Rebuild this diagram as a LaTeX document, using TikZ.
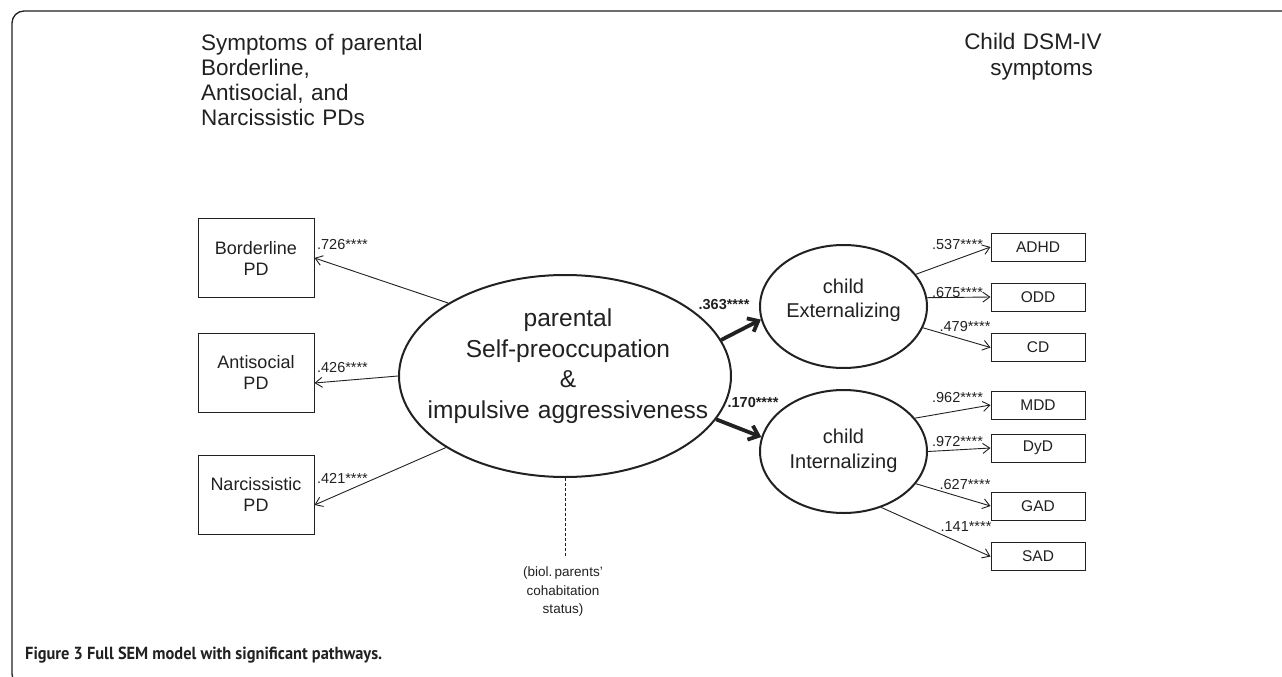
\documentclass[tikz,border=0pt]{standalone}
\usepackage{graphicx}
\usepackage{fontspec}
\setmainfont{Liberation Sans}
\newfontfamily\capfont{PT Sans}
\usetikzlibrary{arrows.meta,shapes.geometric}
\definecolor{ink}{gray}{0.13}
\begin{document}
\begin{tikzpicture}[x=1pt,y=-1pt,
  every node/.style={text=ink, inner sep=0pt},
  pbox/.style={draw=ink, line width=1pt, minimum width=116pt, minimum height=79pt,
    font=\fontsize{18}{21}\selectfont, align=center},
  cbox/.style={draw=ink, line width=1pt, minimum width=94pt, minimum height=28pt,
    font=\fontsize{15.5}{18}\selectfont},
  lat/.style={draw=ink, ellipse, line width=2pt},
  coef/.style={font=\fontsize{14.5}{16}\selectfont},
  coefb/.style={font=\fontsize{14.5}{16}\selectfont\bfseries},
  ld/.style={draw=ink, line width=0.9pt, -{Straight Barb[length=7pt,width=10pt]}},
  reg/.style={draw=ink, line width=3.8pt, -{Straight Barb[length=9pt,width=15pt]}},
]
\useasboundingbox (0,0) rectangle (1282,677);
\fill[white] (0,0) rectangle (1282,677);
% frame
\draw[ink, line width=1.3pt, rounded corners=12pt] (1290,11) -- (12,11) -- (12,686) -- (40,686);

% headers
\node[anchor=base west, text width=260pt, align=left, font=\fontsize{22.5}{25}\selectfont] (hl) at (201,51)
  {Symptoms of parental\\Borderline,\\Antisocial, and\\Narcissistic PDs};
\node[anchor=base, text width=160pt, align=center, font=\fontsize{22.5}{25}\selectfont] (hr) at (1033,50)
  {Child DSM-IV\\\hspace*{17pt}symptoms};

% left boxes
\node[pbox] (bl) at (256,258) {Borderline\\PD};
\node[pbox] (as) at (256,372.5) {Antisocial\\PD};
\node[pbox] (nb) at (256,494.5) {Narcissistic\\PD};

% latent ellipses
\node[lat, minimum width=332pt, minimum height=202pt] (ce) at (565,376) {};
\node[anchor=base, text width=340pt, align=center, font=\fontsize{24.5}{30.5}\selectfont] (cet) at (568,326.7)
  {parental\\Self-preoccupation\\\&\\impulsive aggressiveness};
\node[lat, minimum width=167pt, minimum height=123pt] (ext) at (843.5,306.5) {};
\node[anchor=base, text width=160pt, align=center, font=\fontsize{20}{24}\selectfont] (extt) at (843.5,293.3)
  {child\\Externalizing};
\node[lat, minimum width=167pt, minimum height=123pt] (int) at (843.5,451.5) {};
\node[anchor=base, text width=160pt, align=center, font=\fontsize{20}{25}\selectfont] (intt) at (843.5,443.3)
  {child\\Internalizing};

% right boxes
\node[cbox] (adhd) at (1038,247) {ADHD};
\node[cbox] (odd) at (1038,297) {ODD};
\node[cbox] (cd) at (1038,347.5) {CD};
\node[cbox] (mdd) at (1038,405) {MDD};
\node[cbox] (dyd) at (1038,448) {DyD};
\node[cbox] (gad) at (1038,506) {GAD};
\node[cbox] (sad) at (1038,556.5) {SAD};

% covariate
\node[anchor=base, text width=120pt, align=center, font=\fontsize{13.5}{18.3}\selectfont] (cohab) at (563,576.7)
  {(biol.\,parents’\\cohabitation\\status)};
\coordinate (dend) at (563,557);
\draw[ink, line width=0.8pt, dash pattern=on 3pt off 2pt] (ce.south) -- (ce.south |- dend);

% loadings left
\draw[ld] (ce.148.5) -- (bl.east);
\draw[ld] (ce.west) -- ([yshift=-10.5pt]as.east);
\draw[ld] (ce.211.5) -- ([yshift=-10.5pt]nb.east);
\node[coef] (l1) at (342.5,245) {.726****};
\node[coef] (l2) at (342.5,368) {.426****};
\node[coef] (l3) at (342.5,478) {.421****};

% structural paths
\draw[reg] (ce.13.7) -- (ext.189.3);
\draw[reg] (ce.-16.2) -- (int.170);
\node[coefb] (r1) at (724,305) {.363****};
\node[coefb] (r2) at (753,403) {.170****};

% loadings right
\draw[ld] (ext.24.4) -- (adhd.west);
\draw[ld] (ext.6.5) -- (odd.west);
\draw[ld] (ext.-15.1) -- (cd.west);
\draw[ld] (int.25) -- (mdd.west);
\draw[ld] (int.east) -- (dyd.west);
\draw[ld] (int.-24.4) -- (gad.west);
\draw[ld] (int.-56.7) -- (sad.west);
\node[coef] (k1) at (957.5,245) {.537****};
\node[coef] (k2) at (957.5,293) {.675****};
\node[coef] (k3) at (965,327) {.479****};
\node[coef] (k4) at (957.5,398) {.962****};
\node[coef] (k5) at (957.5,442) {.972****};
\node[coef] (k6) at (965,485) {.627****};
\node[coef] (k7) at (966,527) {.141****};

% caption
\node[anchor=base west, font=\fontsize{17.5}{20}\selectfont] (cap) at (25,659.3)
  {\resizebox{357pt}{\height}{\capfont\bfseries Figure 3 Full SEM model with significant pathways.}};
\end{tikzpicture}
\end{document}
